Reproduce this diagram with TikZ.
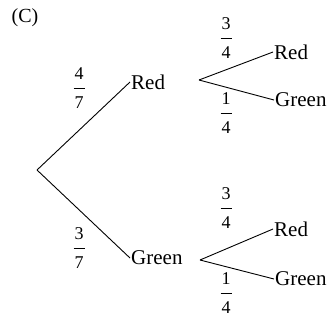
\documentclass[tikz,border=0pt]{standalone}
\usepackage{fontspec}
\setmainfont{Liberation Serif}
\newcommand{\fr}[2]{#1\\\raisebox{5pt}{\rule{11pt}{0.8pt}}\\#2}
\begin{document}
\begin{tikzpicture}[x=1pt,y=-1pt,
  lbl/.style={font=\fontsize{21}{24}\selectfont, inner sep=1pt, anchor=west},
  frac/.style={font=\fontsize{18}{14.5}\selectfont, inner sep=0pt, align=center},
  br/.style={line width=0.9pt, black}]
\useasboundingbox (0,0) rectangle (334,327);
\node[font=\fontsize{20}{22}\selectfont, inner sep=0pt] (tag) at (25,18) {(C)};
\coordinate (root) at (37,170);
\node[lbl] (red) at (130,82) {Red};
\node[lbl] (green) at (130,258) {Green};
\coordinate (ra) at (199,80);
\coordinate (ga) at (200,260);
\node[lbl] (rr) at (273,52) {Red};
\node[lbl] (rg) at (274,100) {Green};
\node[lbl] (gr) at (273,229) {Red};
\node[lbl] (gg) at (274,279) {Green};
\draw[br] (root) -- (red.west);
\draw[br] (root) -- (green.west);
\draw[br] (ra) -- (rr.west);
\draw[br] (ra) -- (rg.west);
\draw[br] (ga) -- (gr.west);
\draw[br] (ga) -- (gg.west);
\node[frac] (f1) at (79,88) {\fr{4}{7}};
\node[frac] (f2) at (79,248) {\fr{3}{7}};
\node[frac] (f3) at (226,38) {\fr{3}{4}};
\node[frac] (f4) at (226,113) {\fr{1}{4}};
\node[frac] (f5) at (226,208) {\fr{3}{4}};
\node[frac] (f6) at (226,293) {\fr{1}{4}};
\end{tikzpicture}
\end{document}
